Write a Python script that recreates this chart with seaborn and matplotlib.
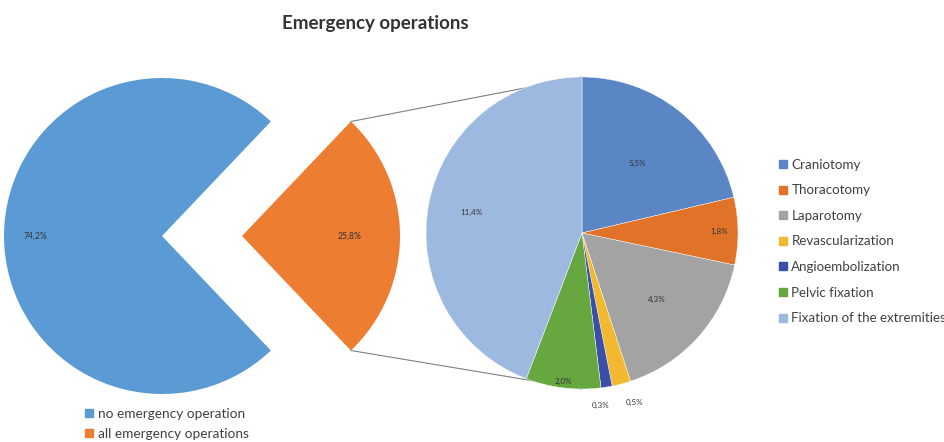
import numpy as np
import matplotlib
matplotlib.use("Agg")
import matplotlib.pyplot as plt
import seaborn as sns
from matplotlib.lines import Line2D

sns.set_theme(style="white")
plt.rcParams['font.family'] = ['Lato', 'DejaVu Sans']

# ---- data ----
title = "Emergency operations"
main_labels = ["no emergency operation", "all emergency operations"]
main_values = [74.2, 25.8]
main_text = ["74,2%", "25,8%"]
sub_labels = ["Craniotomy", "Thoracotomy", "Laparotomy", "Revascularization",
              "Angioembolization", "Pelvic fixation", "Fixation of the extremities"]
sub_values = [5.5, 1.8, 4.3, 0.5, 0.3, 2.0, 11.4]
sub_text = ["5,5%", "1,8%", "4,3%", "0,5%", "0,3%", "2,0%", "11,4%"]

main_colors = ["#5B9BD5", "#ED7D31"]
sub_colors = ["#5A86C6", "#E07328", "#A3A3A3", "#F2B830", "#3B4FA8", "#66A83F", "#9DB9E0"]

W, H = 945, 442
fig = plt.figure(figsize=(W / 100, H / 100), dpi=100)
ax = fig.add_axes([0, 0, 1, 1])

# main pie
c1 = (162, H - 236)
r1 = 158
half = main_values[1] / 100 * 360 / 2
w1, _ = ax.pie(main_values, colors=main_colors, startangle=half, counterclock=True,
               center=c1, radius=r1, explode=[0, 80], frame=True,
               wedgeprops=dict(linewidth=0))
main_dist = [0.8, 0.68]
for w, t, d in zip(w1, main_text, main_dist):
    a = np.deg2rad((w.theta1 + w.theta2) / 2)
    cx, cy = w.center
    ax.text(cx + d * w.r * np.cos(a), cy + d * w.r * np.sin(a), t,
            ha='center', va='center', fontsize=6.2, color='#333333')

# secondary pie
c2 = (582, H - 233)
r2 = 156
w2, _ = ax.pie(sub_values, colors=sub_colors, startangle=90, counterclock=False,
               center=c2, radius=r2, frame=True,
               wedgeprops=dict(linewidth=0.3, edgecolor='white'))
sub_dist = [0.57, 0.88, 0.64, 1.12, 1.12, 0.96, 0.72]
sub_ha = ['center', 'center', 'center', 'left', 'right', 'center', 'center']
for w, t, d, h in zip(w2, sub_text, sub_dist, sub_ha):
    a = np.deg2rad((w.theta1 + w.theta2) / 2)
    cx, cy = w.center
    ax.text(cx + d * w.r * np.cos(a), cy + d * w.r * np.sin(a), t,
            ha=h, va='center', fontsize=5.8, color='#333333')

# connector lines
ow = w1[1]
ocx, ocy = ow.center
for ang, py in [(ow.theta2, c2[1] + r2), (ow.theta1, c2[1] - r2)]:
    a = np.deg2rad(ang)
    x0 = ocx + ow.r * np.cos(a)
    y0 = ocy + ow.r * np.sin(a)
    ax.plot([x0, c2[0]], [y0, py], color='#7F7F7F', lw=0.8, zorder=0)

ax.set_xlim(0, W)
ax.set_ylim(0, H)
ax.set_aspect('equal')
ax.axis('off')

# title
fig.text(375 / W, 1 - 24 / H, title, ha='center', va='center',
         fontsize=13.5, fontweight='bold', color='#333333')

# legends
h_main = [Line2D([], [], marker='s', ls='', color=c, markersize=6) for c in main_colors]
fig.legend(h_main, main_labels, loc='upper left', bbox_to_anchor=(78 / W, 1 - 401 / H),
           frameon=False, fontsize=9.8, handlelength=0.6, handletextpad=0.35,
           labelspacing=0.62, borderpad=0, labelcolor='#404040')
h_sub = [Line2D([], [], marker='s', ls='', color=c, markersize=6) for c in sub_colors]
fig.legend(h_sub, sub_labels, loc='upper left', bbox_to_anchor=(772 / W, 1 - 152 / H),
           frameon=False, fontsize=9.6, handlelength=0.6, handletextpad=0.35,
           labelspacing=1.02, borderpad=0, labelcolor='#404040')

fig.savefig("out.png", dpi=100, facecolor='white')
